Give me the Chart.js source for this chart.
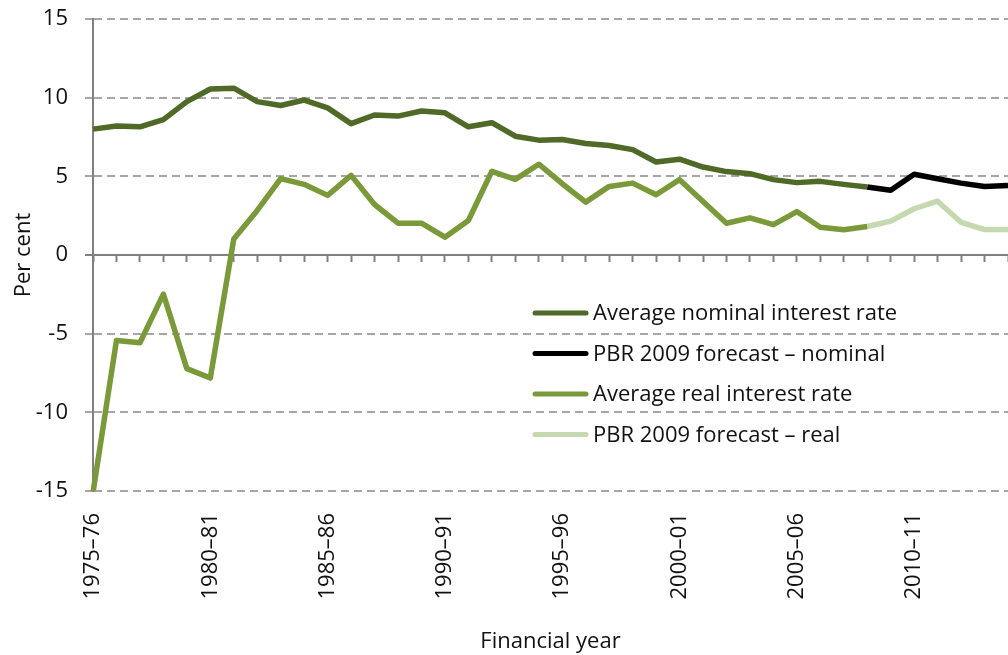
<!DOCTYPE html>
<html>
<head>
<meta charset="utf-8">
<script src="https://cdn.jsdelivr.net/npm/chart.js@4/dist/chart.umd.min.js"></script>
<style>
  html, body { margin: 0; padding: 0; background: #fff; }
  #wrap { width: 1008px; height: 655px; }
</style>
</head>
<body>
<div id="wrap"><canvas id="rateChart" width="1008" height="655"></canvas></div>
<script>
// financial years on the x axis
const years = [
  '1975–76', '1976–77', '1977–78', '1978–79', '1979–80',
  '1980–81', '1981–82', '1982–83', '1983–84', '1984–85',
  '1985–86', '1986–87', '1987–88', '1988–89', '1989–90',
  '1990–91', '1991–92', '1992–93', '1993–94', '1994–95',
  '1995–96', '1996–97', '1997–98', '1998–99', '1999–00',
  '2000–01', '2001–02', '2002–03', '2003–04', '2004–05',
  '2005–06', '2006–07', '2007–08', '2008–09', '2009–10',
  '2010–11', '2011–12', '2012–13', '2013–14', '2014–15'
];

// average nominal interest rate (outturn, to 2008–09)
const nominalRate = [
  8.0, 8.2, 8.15, 8.6, 9.75, 10.55, 10.6, 9.75, 9.5, 9.85,
  9.35, 8.35, 8.9, 8.83, 9.15, 9.04, 8.15, 8.41, 7.55, 7.3,
  7.34, 7.09, 6.96, 6.7, 5.91, 6.09, 5.59, 5.3, 5.17, 4.79,
  4.6, 4.68, 4.49, 4.32, null, null, null, null, null, null
];

// PBR 2009 forecast – nominal (joins at 2008–09)
const nominalForecast = [
  null, null, null, null, null, null, null, null, null, null,
  null, null, null, null, null, null, null, null, null, null,
  null, null, null, null, null, null, null, null, null, null,
  null, null, null, 4.32, 4.11, 5.13, 4.85, 4.57, 4.36, 4.41
];

// average real interest rate
const realRate = [
  -15.1, -5.43, -5.58, -2.49, -7.22, -7.82, 1.02, 2.83, 4.85, 4.49,
  3.79, 5.06, 3.21, 2.02, 2.02, 1.13, 2.19, 5.32, 4.81, 5.77,
  4.53, 3.36, 4.36, 4.57, 3.83, 4.79, 3.4, 2.02, 2.36, 1.93,
  2.76, 1.76, 1.6, 1.81, null, null, null, null, null, null
];

// PBR 2009 forecast – real
const realForecast = [
  null, null, null, null, null, null, null, null, null, null,
  null, null, null, null, null, null, null, null, null, null,
  null, null, null, null, null, null, null, null, null, null,
  null, null, null, 1.81, 2.15, 2.94, 3.42, 2.08, 1.62, 1.62
];

const seriesNames = [
  'Average nominal interest rate',
  'PBR 2009 forecast – nominal',
  'Average real interest rate',
  'PBR 2009 forecast – real'
];
const seriesColors = ['#4e6a26', '#000000', '#7a9a3a', '#c6d8b0'];

const yTicks = [-15, -10, -5, 0, 5, 10, 15];

const FONT = "'Open Sans', 'Noto Sans', sans-serif";
const axisGrey = '#808080';
const gridGrey = '#a6a6a6';

// legend drawn inside the plot, same look as the original
const insideLegend = {
  id: 'insideLegend',
  afterDatasetsDraw(chart) {
    const ctx = chart.ctx;
    const x0 = 533, lineLen = 55, rowTop = 313, rowGap = 40.5;
    ctx.save();
    ctx.font = '22px ' + FONT;
    ctx.textBaseline = 'middle';
    ctx.textAlign = 'left';
    chart.data.datasets.forEach((ds, i) => {
      const y = rowTop + i * rowGap;
      ctx.strokeStyle = ds.borderColor;
      ctx.lineWidth = 5;
      ctx.lineCap = 'round';
      ctx.beginPath();
      ctx.moveTo(x0 + 2, y);
      ctx.lineTo(x0 + lineLen - 2, y);
      ctx.stroke();
      ctx.fillStyle = '#111';
      ctx.fillText(ds.label, x0 + lineLen + 5, y + 1);
    });
    ctx.restore();
  }
};

const allSeries = [nominalRate, nominalForecast, realRate, realForecast];

const ctx = document.getElementById('rateChart').getContext('2d');
const rateChart = new Chart(ctx, {
  type: 'line',
  data: {
    labels: years,
    datasets: allSeries.map((d, i) => ({
      label: seriesNames[i],
      data: d,
      borderColor: seriesColors[i],
      backgroundColor: seriesColors[i],
      borderWidth: 5.5,
      borderJoinStyle: 'round',
      pointRadius: 0,
      tension: 0,
      fill: false,
      spanGaps: false,
      xAxisID: 'x',
      yAxisID: 'y'
    }))
  },
  options: {
    responsive: false,
    animation: false,
    devicePixelRatio: 1,
    layout: { padding: { top: 19, right: 0, bottom: 0, left: 0 } },
    plugins: {
      legend: { display: false },
      tooltip: { enabled: false }
    },
    scales: {
      // zero line with the small year ticks
      x: {
        type: 'category',
        position: { y: 0 },
        offset: false,
        ticks: { display: false },
        grid: {
          display: true,
          drawOnChartArea: false,
          drawTicks: true,
          tickLength: 6,
          tickWidth: 2,
          tickColor: axisGrey
        },
        border: { display: true, color: axisGrey, width: 2 }
      },
      // year labels along the bottom
      x2: {
        type: 'category',
        position: 'bottom',
        offset: false,
        grid: { display: false, drawTicks: false },
        border: { display: false },
        ticks: {
          autoSkip: false,
          minRotation: 90,
          maxRotation: 90,
          padding: 22,
          color: '#111',
          font: { family: FONT, size: 22 },
          callback: function (value, index) {
            return index % 5 === 0 ? years[index] : '';
          }
        },
        title: {
          display: true,
          text: 'Financial year',
          color: '#111',
          font: { family: FONT, size: 22 },
          padding: { top: 0, bottom: 0 }
        },
        afterFit: function (scale) {
          scale.height = 164;
          scale.paddingLeft = 0;
          scale.paddingRight = 0;
        }
      },
      y: {
        min: -15,
        max: 15,
        afterBuildTicks: function (scale) {
          scale.ticks = yTicks.map(v => ({ value: v }));
        },
        ticks: {
          padding: 17,
          color: '#111',
          font: { family: FONT, size: 22 },
          callback: v => String(v)
        },
        grid: {
          color: c => (c.tick && c.tick.value === 0) ? 'rgba(0,0,0,0)' : gridGrey,
          lineWidth: 2,
          tickLength: 8,
          tickWidth: 2,
          tickColor: c => (c.tick && c.tick.value === 0) ? axisGrey : gridGrey
        },
        border: { display: true, color: axisGrey, width: 2, dash: [8, 5] },
        title: {
          display: true,
          text: 'Per cent',
          color: '#111',
          font: { family: FONT, size: 22 },
          padding: { top: 11, bottom: 0 }
        },
        afterFit: function (scale) {
          scale.width = 93;
          scale.paddingTop = 0;
          scale.paddingBottom = 0;
        }
      }
    }
  },
  plugins: [insideLegend]
});
</script>
</body>
</html>
